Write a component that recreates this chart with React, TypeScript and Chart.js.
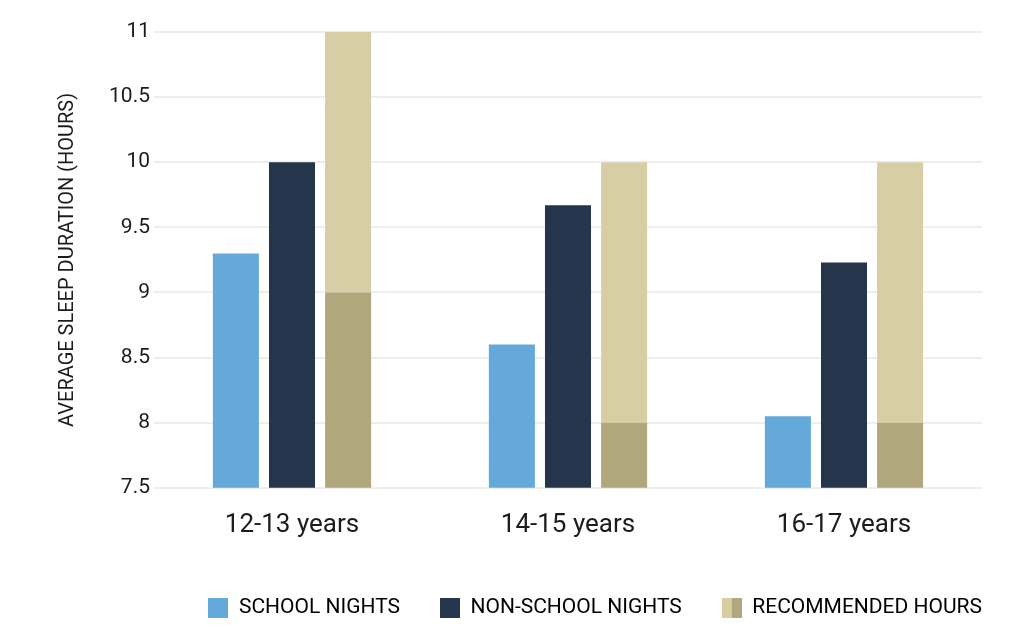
import { Chart, registerables } from "chart.js";
import { useEffect, useRef } from "react";

Chart.register(...registerables);

const ageGroups = ["12-13 years", "14-15 years", "16-17 years"];
const schoolNights = [9.3, 8.6, 8.05];
const nonSchoolNights = [10.0, 9.67, 9.23];
const recommendedMin = [9, 8, 8];
const recommendedMax = [11, 10, 10];
const legendLabels = ["SCHOOL NIGHTS", "NON-SCHOOL NIGHTS", "RECOMMENDED HOURS"];

const BLUE = "#64a9d9";
const NAVY = "#25354b";
const KHAKI_LIGHT = "#d8cea5";
const KHAKI_DARK = "#b0a77d";
const TEXT = "#1c1c1c";
const FONT = "Roboto, Inter, sans-serif";

// square legend marker, optionally split in two colours
const makeSwatch = (left: string, right?: string) => {
  const c = document.createElement("canvas");
  c.width = 20;
  c.height = 20;
  const ctx = c.getContext("2d")!;
  ctx.fillStyle = left;
  ctx.fillRect(0, 0, 20, 20);
  if (right) {
    ctx.fillStyle = right;
    ctx.fillRect(10, 0, 10, 20);
  }
  return c;
};

const SleepChart = () => {
  const chartRef = useRef<HTMLCanvasElement>(null);
  const chartInstance = useRef<Chart | null>(null);

  useEffect(() => {
    const canvas = chartRef.current;
    if (!canvas) return;
    const ctx = canvas.getContext("2d");
    if (!ctx) return;

    if (chartInstance.current) chartInstance.current.destroy();

    const swatches = [
      makeSwatch(BLUE),
      makeSwatch(NAVY),
      makeSwatch(KHAKI_LIGHT, KHAKI_DARK),
    ];

    chartInstance.current = new Chart(ctx, {
      type: "bar",
      data: {
        labels: ageGroups,
        datasets: [
          { label: legendLabels[0], data: schoolNights, backgroundColor: BLUE, stack: "school" },
          { label: legendLabels[1], data: nonSchoolNights, backgroundColor: NAVY, stack: "nonschool" },
          { label: "min", data: recommendedMin, backgroundColor: KHAKI_DARK, stack: "rec" },
          {
            label: "max",
            data: recommendedMax.map((v, i) => v - recommendedMin[i]),
            backgroundColor: KHAKI_LIGHT,
            stack: "rec",
          },
        ],
      },
      options: {
        animation: false,
        responsive: true,
        maintainAspectRatio: false,
        datasets: { bar: { categoryPercentage: 0.61, barPercentage: 0.82 } },
        layout: { padding: { left: 52, right: 2, top: 32, bottom: 12 } },
        plugins: {
          tooltip: { enabled: false },
          legend: {
            position: "bottom",
            align: "end",
            labels: {
              usePointStyle: true,
              pointStyleWidth: 20,
              padding: 40,
              color: TEXT,
              font: { family: FONT, size: 21 },
              generateLabels: () =>
                legendLabels.map((text, i) => ({
                  text,
                  pointStyle: swatches[i],
                  fillStyle: "transparent",
                  strokeStyle: "transparent",
                  lineWidth: 0,
                  hidden: false,
                  datasetIndex: i,
                })),
            },
          },
        },
        scales: {
          x: {
            stacked: true,
            grid: { display: false },
            border: { display: false },
            ticks: { color: TEXT, font: { family: FONT, size: 26 }, padding: 14 },
            afterFit: (scale: any) => {
              scale.height += 2;
            },
          },
          y: {
            stacked: true,
            min: 7.5,
            max: 11,
            border: { display: false },
            grid: { color: "#eeeeee", lineWidth: 2, drawTicks: false },
            ticks: {
              stepSize: 0.5,
              color: TEXT,
              padding: 4,
              font: { family: FONT, size: 21 },
              callback: (v: any) => String(Number(v)),
            },
            title: {
              display: true,
              text: "AVERAGE SLEEP DURATION (HOURS)",
              color: TEXT,
              font: { family: FONT, size: 20 },
            },
            afterFit: (scale: any) => {
              scale.width = 102;
            },
          },
          // empty axis that only keeps the plot clear of the right edge
          yRight: {
            position: "right",
            display: true,
            grid: { display: false },
            border: { display: false },
            ticks: { display: false },
            afterFit: (scale: any) => {
              scale.width = 40;
            },
          },
        },
      },
    });

    return () => {
      if (chartInstance.current) {
        chartInstance.current.destroy();
        chartInstance.current = null;
      }
    };
  }, []);

  return <canvas ref={chartRef} />;
};

export default function App() {
  return (
    <div style={{ position: "absolute", left: 0, top: 0, width: 1024, height: 640, background: "#fff" }}>
      <SleepChart />
    </div>
  );
}
